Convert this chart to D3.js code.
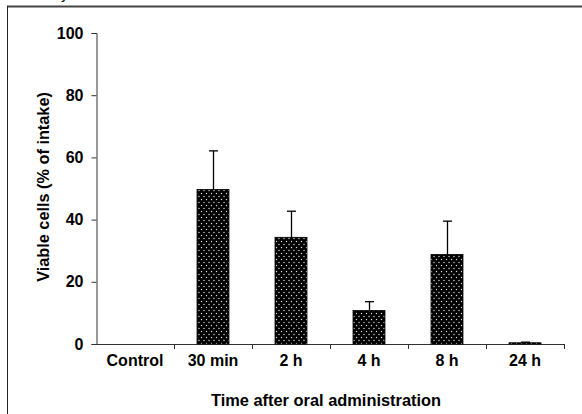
<!DOCTYPE html>
<html>
<head>
<meta charset="utf-8">
<script src="https://cdn.jsdelivr.net/npm/d3@7"></script>
<style>
  body { margin: 0; background: #fff; }
  svg { display: block; font-family: "Liberation Sans", Arial, sans-serif; }
</style>
</head>
<body>
<svg id="chart" width="582" height="414"></svg>
<script>
// --- DATA ---
const categories = ['Control', '30 min', '2 h', '4 h', '8 h', '24 h'];
const means = [0, 49.7, 34.3, 10.8, 28.8, 0.4];
const errors = [0, 12.4, 8.4, 2.8, 10.7, 0.2];
const yTicks = [0, 20, 40, 60, 80, 100];

const svg = d3.select('#chart');

// frame around the figure (top and left edges are visible)
svg.append('line').attr('x1', 7).attr('x2', 582).attr('y1', 6.5).attr('y2', 6.5)
    .attr('stroke', '#444').attr('stroke-width', 2);
svg.append('line').attr('x1', 7.5).attr('x2', 7.5).attr('y1', 6).attr('y2', 414)
    .attr('stroke', '#222').attr('stroke-width', 1);

// descender of a caption line cut off above the frame
svg.append('text').attr('x', 61).attr('y', -1).attr('font-size', 15).text('y');

// dotted fill pattern for bars
const pat = svg.append('defs').append('pattern')
    .attr('id', 'dots').attr('patternUnits', 'userSpaceOnUse')
    .attr('width', 5).attr('height', 6);
pat.append('rect').attr('width', 5).attr('height', 6).attr('fill', '#000');
pat.append('circle').attr('cx', 1.5).attr('cy', 1.5).attr('r', 0.7).attr('fill', '#e0e0e0');
pat.append('circle').attr('cx', 4).attr('cy', 4.5).attr('r', 0.7).attr('fill', '#e0e0e0');

const x0 = 96, x1 = 564, yTop = 33, yBottom = 344;

const x = d3.scaleBand().domain(categories).range([x0, x1]).paddingInner(0.59).paddingOuter(0.295);
const y = d3.scaleLinear().domain([0, 100]).range([yBottom, yTop]);

// y axis
const yAxis = svg.append('g')
    .attr('transform', `translate(${x0 + 0.5},0)`)
    .call(d3.axisLeft(y).tickValues(yTicks).tickSize(5).tickPadding(8));
yAxis.select('.domain').attr('stroke', '#333');
yAxis.selectAll('.tick line').attr('stroke', '#333');
yAxis.selectAll('text').attr('font-size', 16).attr('font-weight', 'bold')
    .attr('font-family', '"Liberation Sans", Arial, sans-serif').attr('fill', '#000');

// x axis ticks between categories
const xTickPos = d3.range(categories.length + 1).map(i => x0 + i * x.step());
const xg = svg.append('g');
xg.append('line').attr('x1', x0).attr('x2', x1)
    .attr('y1', yBottom + 0.5).attr('y2', yBottom + 0.5).attr('stroke', '#333');
xg.selectAll('.xt').data(xTickPos.slice(1)).join('line')
    .attr('x1', d => Math.round(d) + 0.5).attr('x2', d => Math.round(d) + 0.5)
    .attr('y1', yBottom).attr('y2', yBottom + 5).attr('stroke', '#333');
xg.selectAll('.xl').data(categories).join('text')
    .attr('x', d => x(d) + x.bandwidth() / 2).attr('y', 365.5)
    .attr('text-anchor', 'middle').attr('font-size', 16).attr('font-weight', 'bold')
    .text(d => d);

// bars
const data = categories.map((c, i) => ({ cat: c, mean: means[i], err: errors[i] }));
const bars = data.filter(d => d.mean > 0);

svg.selectAll('.err').data(bars).join('g').attr('class', 'err').each(function(d) {
    const g = d3.select(this);
    const cx = Math.round(x(d.cat) + x.bandwidth() / 2) + 0.5;
    g.append('line').attr('x1', cx).attr('x2', cx)
        .attr('y1', y(d.mean)).attr('y2', y(d.mean + d.err))
        .attr('stroke', '#000').attr('stroke-width', 1.3);
    g.append('line').attr('x1', cx - 4.5).attr('x2', cx + 4.5)
        .attr('y1', y(d.mean + d.err)).attr('y2', y(d.mean + d.err))
        .attr('stroke', '#000').attr('stroke-width', 1.3);
});

svg.selectAll('.bar').data(bars).join('rect').attr('class', 'bar')
    .attr('x', d => x(d.cat)).attr('width', x.bandwidth())
    .attr('y', d => y(d.mean)).attr('height', d => Math.max(1, yBottom - y(d.mean)))
    .attr('fill', 'url(#dots)').attr('stroke', '#000').attr('stroke-width', 0.8);

// axis titles
svg.append('text').attr('x', 326).attr('y', 406)
    .attr('text-anchor', 'middle').attr('font-size', 16.4).attr('font-weight', 'bold')
    .text('Time after oral administration');
svg.append('text').attr('transform', `translate(48.5,187) rotate(-90)`)
    .attr('text-anchor', 'middle').attr('font-size', 16.3).attr('font-weight', 'bold')
    .text('Viable cells (% of intake)');
</script>
</body>
</html>
